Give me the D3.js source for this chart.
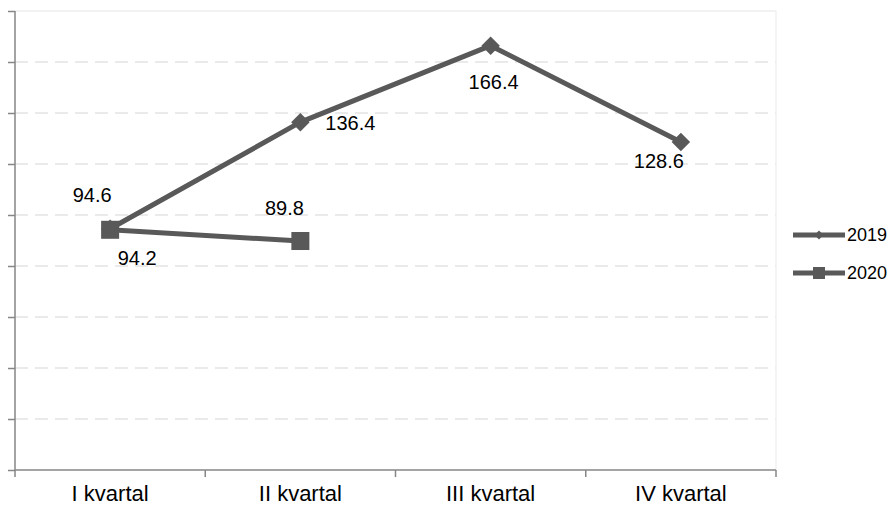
<!DOCTYPE html>
<html>
<head>
<meta charset="utf-8">
<script src="https://cdn.jsdelivr.net/npm/d3@7"></script>
<style>
  html, body { margin: 0; padding: 0; background: #ffffff; }
  svg { display: block; font-family: "Liberation Sans", Arial, sans-serif; }
</style>
</head>
<body>
<svg id="chart" width="893" height="506"></svg>
<script>
// ---- data ----
const categories = ["I kvartal", "II kvartal", "III kvartal", "IV kvartal"];
const seriesNames = ["2019", "2020"];
const values2019 = [94.6, 136.4, 166.4, 128.6];
const values2020 = [94.2, 89.8, null, null];
const yTicks = [0, 20, 40, 60, 80, 100, 120, 140, 160, 180];

// ---- layout / style ----
const margin = { left: 15, right: 776, top: 11, bottom: 470 };
const lineColor = "#595959";
const axisColor = "#868686";
// label offsets relative to each point (style only)
const labelOffsets2019 = [[-18, -34], [50, 1], [3, 36], [-22, 19]];
const labelOffsets2020 = [[27, 28], [-16, -33]];

const svg = d3.select("#chart");

const x = d3.scaleBand().domain(categories).range([margin.left, margin.right]).padding(0);
const y = d3.scaleLinear().domain([0, 180]).range([margin.bottom, margin.top]);
const cx = c => x(c) + x.bandwidth() / 2;

// gridlines
svg.append("g").selectAll("line")
  .data(yTicks.filter(t => t > 0 && t < 180))
  .join("line")
  .attr("x1", margin.left).attr("x2", margin.right)
  .attr("y1", d => y(d)).attr("y2", d => y(d))
  .attr("stroke", "#e4e4e4").attr("stroke-width", 1.3)
  .attr("stroke-dasharray", "13,7");

// top & right border
svg.append("line").attr("x1", margin.left).attr("x2", margin.right)
  .attr("y1", y(180)).attr("y2", y(180)).attr("stroke", "#eeeeee").attr("stroke-width", 1.3);
svg.append("line").attr("x1", margin.right).attr("x2", margin.right)
  .attr("y1", y(180)).attr("y2", y(0)).attr("stroke", "#eeeeee").attr("stroke-width", 1.3);

// y axis (no labels)
const yAxis = d3.axisLeft(y).tickValues(yTicks).tickSize(7).tickFormat("");
const gy = svg.append("g").attr("transform", `translate(${margin.left},0)`).call(yAxis);
gy.select(".domain").remove();
gy.append("line").attr("x1", 0).attr("x2", 0).attr("y1", y(180)).attr("y2", y(0) + 0.5)
  .attr("stroke", axisColor).attr("stroke-width", 1.5);
gy.selectAll(".tick line").attr("stroke", axisColor).attr("stroke-width", 1.5);

// x axis
const xBounds = [margin.left].concat(categories.map(c => x(c) + x.bandwidth()));
const gx = svg.append("g");
gx.append("line").attr("x1", margin.left).attr("x2", margin.right)
  .attr("y1", y(0)).attr("y2", y(0)).attr("stroke", axisColor).attr("stroke-width", 1.5);
gx.selectAll("line.tk").data(xBounds).join("line").attr("class", "tk")
  .attr("x1", d => d).attr("x2", d => d)
  .attr("y1", y(0)).attr("y2", y(0) + 7)
  .attr("stroke", axisColor).attr("stroke-width", 1.5);
gx.selectAll("text").data(categories).join("text")
  .attr("x", d => cx(d)).attr("y", 501)
  .attr("text-anchor", "middle").attr("font-size", 22).attr("fill", "#000")
  .text(d => d);

// lines
const line = d3.line()
  .defined(d => d.v != null)
  .x(d => cx(d.c)).y(d => y(d.v));

const s2019 = categories.map((c, i) => ({ c, v: values2019[i] }));
const s2020 = categories.map((c, i) => ({ c, v: values2020[i] }));

svg.append("path").datum(s2019).attr("d", line)
  .attr("fill", "none").attr("stroke", lineColor).attr("stroke-width", 5).attr("stroke-linejoin", "round");
svg.append("path").datum(s2020).attr("d", line)
  .attr("fill", "none").attr("stroke", lineColor).attr("stroke-width", 5).attr("stroke-linejoin", "round");

const diamond = d3.symbol().type(d3.symbolSquare).size(170);
svg.append("g").selectAll("path").data(s2019.filter(d => d.v != null)).join("path")
  .attr("d", diamond)
  .attr("transform", d => `translate(${cx(d.c)},${y(d.v)}) rotate(45)`)
  .attr("fill", lineColor);
svg.append("g").selectAll("rect").data(s2020.filter(d => d.v != null)).join("rect")
  .attr("x", d => cx(d.c) - 9).attr("y", d => y(d.v) - 9)
  .attr("width", 18).attr("height", 18)
  .attr("fill", lineColor);

// data labels
svg.append("g").selectAll("text").data(s2019.filter(d => d.v != null)).join("text")
  .attr("x", (d, i) => cx(d.c) + labelOffsets2019[i][0])
  .attr("y", (d, i) => y(d.v) + labelOffsets2019[i][1])
  .attr("dy", "0.35em")
  .attr("text-anchor", "middle").attr("font-size", 20).attr("fill", "#000")
  .text(d => d.v.toFixed(1));
svg.append("g").selectAll("text").data(s2020.filter(d => d.v != null)).join("text")
  .attr("x", (d, i) => cx(d.c) + labelOffsets2020[i][0])
  .attr("y", (d, i) => y(d.v) + labelOffsets2020[i][1])
  .attr("dy", "0.35em")
  .attr("text-anchor", "middle").attr("font-size", 20).attr("fill", "#000")
  .text(d => d.v.toFixed(1));

// legend
const legendY = [235, 273];
const lg = svg.append("g");
seriesNames.forEach((name, i) => {
  const g = lg.append("g").attr("transform", `translate(0,${legendY[i]})`);
  g.append("line").attr("x1", 793).attr("x2", 845).attr("y1", 0).attr("y2", 0)
    .attr("stroke", lineColor).attr("stroke-width", 5);
  if (i === 0) {
    g.append("path").attr("d", d3.symbol().type(d3.symbolSquare).size(40)())
      .attr("transform", "translate(819,0) rotate(45)").attr("fill", lineColor);
  } else {
    g.append("rect").attr("x", 813).attr("y", -6).attr("width", 12).attr("height", 12).attr("fill", lineColor);
  }
  g.append("text").attr("x", 847).attr("y", 0).attr("dy", "0.35em")
    .attr("font-size", 18).attr("fill", "#000").text(name);
});
</script>
</body>
</html>
